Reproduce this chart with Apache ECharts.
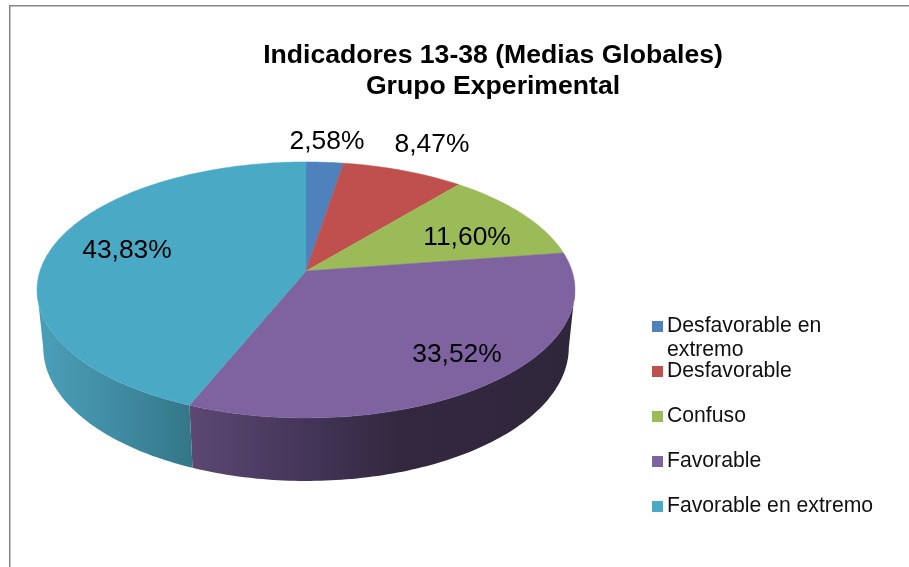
<!DOCTYPE html>
<html><head><meta charset="utf-8">
<style>html,body{margin:0;padding:0;background:#fff}#c{width:909px;height:567px}</style>
<script src="https://cdn.jsdelivr.net/npm/echarts@6/dist/echarts.min.js"></script>
</head><body><div id="c"></div>
<script>
const categories = ['Desfavorable en extremo','Desfavorable','Confuso','Favorable','Favorable en extremo'];
const percentValues = [2.58, 8.47, 11.60, 33.52, 43.83];
const percentLabels = ['2,58%','8,47%','11,60%','33,52%','43,83%'];
const chartTitle = 'Indicadores 13-38 (Medias Globales)\nGrupo Experimental';

// layout and styles
const sliceColors = ['#4f81bd','#c0504d','#9bbb59','#7f62a0','#4aa9c4'];
const wallStops = [
  [[40,'#3a6290'],[560,'#3a6290']],
  [[40,'#903c3a'],[560,'#903c3a']],
  [[40,'#748c43'],[560,'#748c43']],
  [[190,'#5c4872'],[300,'#45365a'],[400,'#33283f'],[575,'#30263c']],
  [[40,'#4a9fb8'],[120,'#3f8ba1'],[192,'#347688']]
];
const labelPlaces = [[327,142],[432,145],[467,238],[457,355],[127,251]];
const apex = [306,271], A = 266, B = 125.2, K = 0.148, DROP = 58.5, WSHIFT = 1.023;
const visibleFrom = Math.acos(-K)*180/Math.PI, visibleTo = 360 - visibleFrom;

function topPoint(deg){
  const t = deg*Math.PI/180, X = Math.sin(t), Y = Math.cos(t), w = 1+K*Y;
  return [apex[0]+A*X/w, apex[1]-B*Y/w];
}
function bottomPoint(deg){
  const t = deg*Math.PI/180, X = Math.sin(t), Y = Math.cos(t), w = WSHIFT+K*Y;
  return [apex[0]+A*X/w, apex[1]+(DROP-B*Y)/w];
}
function arc(fn,a,b){
  const pts=[], n=Math.max(2,Math.ceil(Math.abs(b-a)));
  for(let i=0;i<=n;i++) pts.push(fn(a+(b-a)*i/n));
  return pts;
}
const total = percentValues.reduce((s,v)=>s+v,0);
function sliceRange(i){
  let s=0; for(let j=0;j<i;j++) s+=percentValues[j];
  return [s/total*360,(s+percentValues[i])/total*360];
}
function wallFill(i){
  const st=wallStops[i], x0=st[0][0], x1=st[st.length-1][0];
  return new echarts.graphic.LinearGradient(x0,0,x1,0,
    st.map(p=>({offset:(p[0]-x0)/(x1-x0),color:p[1]})),true);
}
function wallRender(i){
  return function(params,api){
    const [a,b]=sliceRange(i);
    if(b<=visibleFrom||a>=visibleTo) return {type:'group',children:[]};
    const a2=Math.max(a,visibleFrom), b2=Math.min(b,visibleTo);
    const pts=arc(topPoint,a2,b2).concat(arc(bottomPoint,a2,b2).reverse());
    return {type:'polygon',shape:{points:pts},style:{fill:wallFill(i)},z2:1};
  };
}
function topRender(i){
  return function(params,api){
    const [a,b]=sliceRange(i);
    const pts=[apex].concat(arc(topPoint,a,b));
    return {type:'polygon',shape:{points:pts},style:{fill:sliceColors[i],stroke:sliceColors[i],lineWidth:0.5},z2:2};
  };
}
function labelRender(i){
  return function(){
    return {type:'text',x:labelPlaces[i][0],y:labelPlaces[i][1],z2:5,
      style:{text:percentLabels[i],fill:'#000',font:'26.4px "Liberation Sans"',align:'center',verticalAlign:'middle'}};
  };
}
const series=[];
[wallRender,topRender,labelRender].forEach((render,k)=>{
  categories.forEach((name,i)=>{
    series.push({type:'custom',name:name,coordinateSystem:'none',data:[percentValues[i]],
      renderItem:render(i),itemStyle:{color:sliceColors[i]},silent:true,z:k+1,animation:false});
  });
});
const chart=echarts.init(document.getElementById('c'),null,{renderer:'canvas'});
chart.setOption({
  animation:false,
  backgroundColor:'#fff',
  title:{text:chartTitle,left:488,top:35,textAlign:'center',
    textStyle:{fontFamily:'Liberation Sans',fontWeight:'bold',fontSize:26.6,lineHeight:31,color:'#000'}},
  legend:{data:categories,orient:'vertical',left:647,top:311,itemWidth:11,itemHeight:11,itemGap:24,
    icon:'rect',selectedMode:false,
    formatter:n=>n==='Desfavorable en extremo'?'Desfavorable en':n,
    textStyle:{fontFamily:'Liberation Sans',fontSize:21.2,color:'#111',padding:[0,0,0,-1],height:18,lineHeight:18}},
  graphic:[
    {type:'polyline',shape:{points:[[9.75,567],[9.75,5.75],[909,5.75]]},style:{stroke:'#868686',fill:null,lineWidth:1.5},silent:true},
    {type:'text',x:667,y:350,style:{text:'extremo',font:'21.2px "Liberation Sans"',fill:'#111',verticalAlign:'middle'},silent:true}
  ],
  series:series
});
</script></body></html>
